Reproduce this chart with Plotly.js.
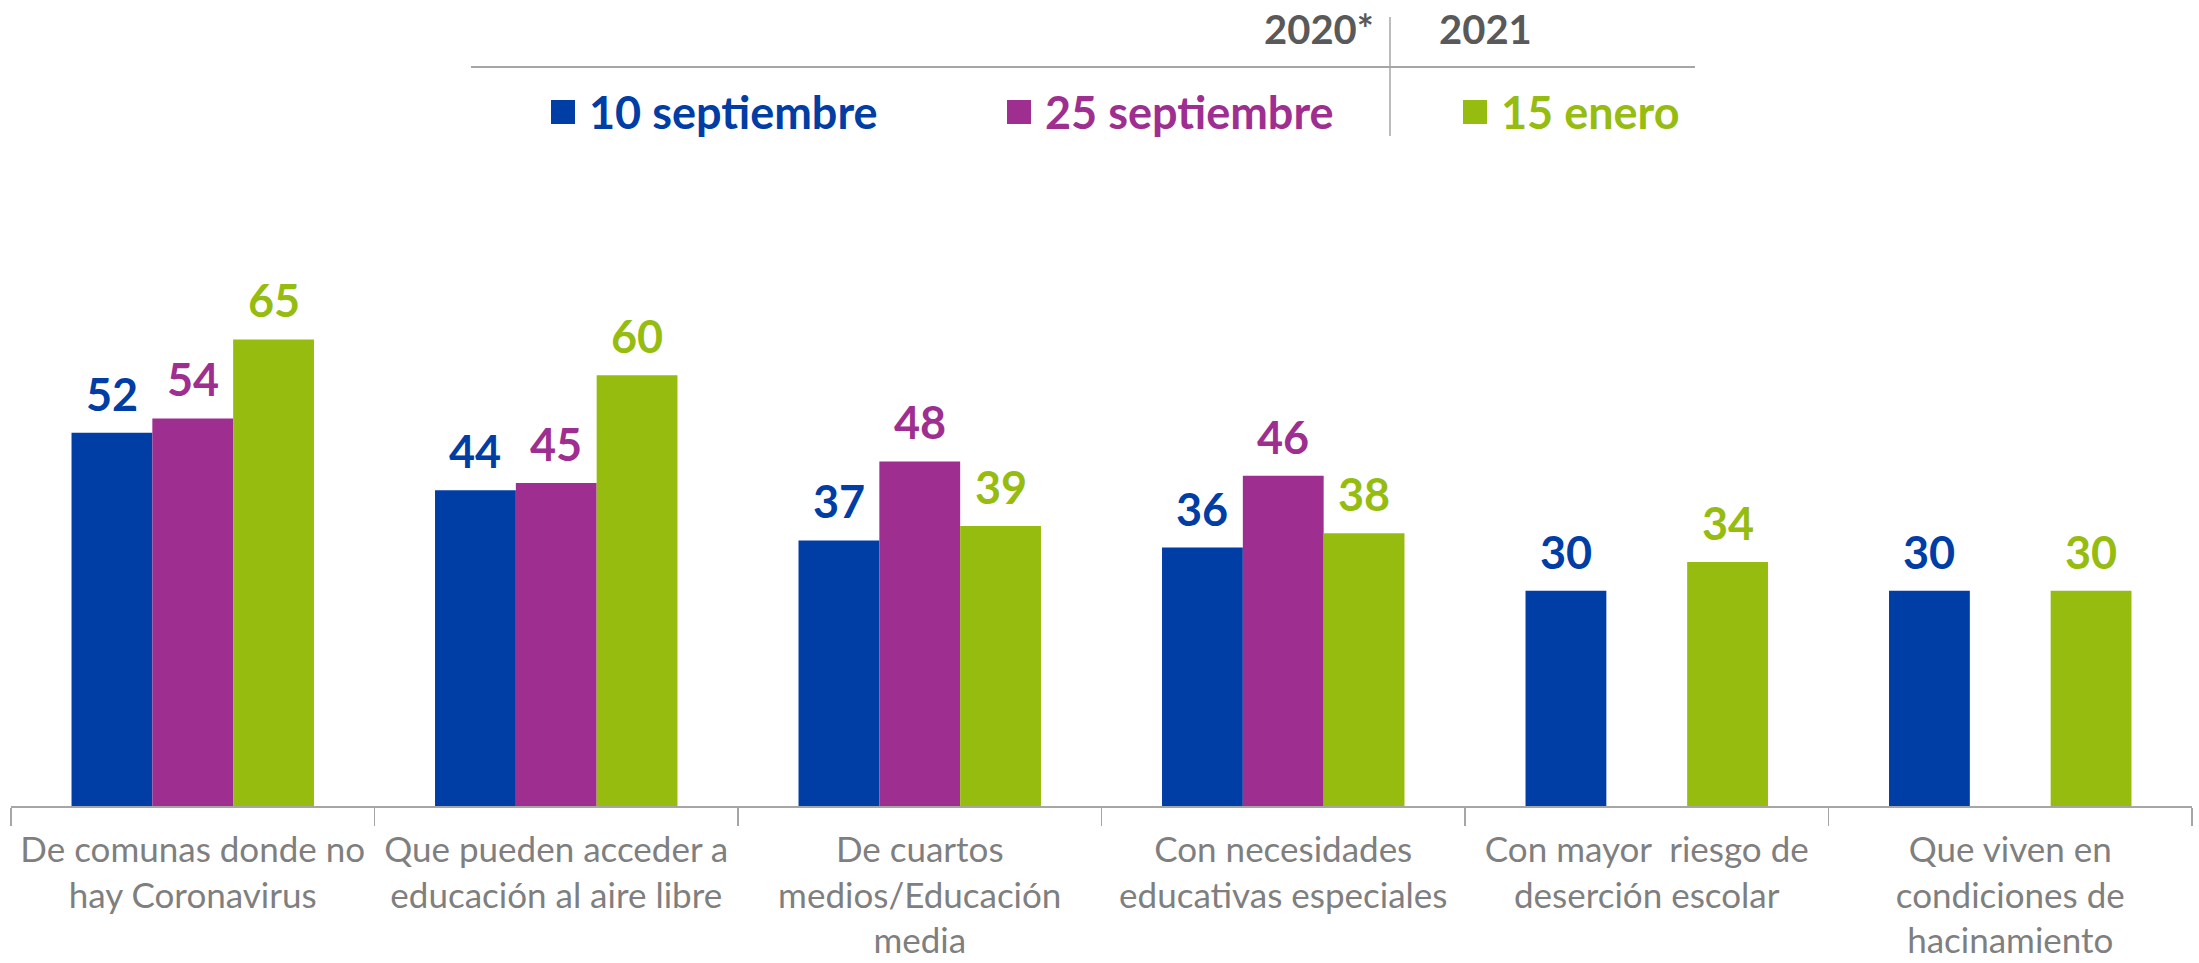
<!DOCTYPE html>
<html>
<head>
<meta charset="utf-8">
<script src="https://cdn.plot.ly/plotly-3.0.1.min.js"></script>
<style>html,body{margin:0;padding:0;background:#fff;}#chart{width:2199px;height:963px;}</style>
</head>
<body>
<div id="chart"></div>
<script>
const categories = [
  "De comunas donde no<br>hay Coronavirus",
  "Que pueden acceder a<br>educación al aire libre",
  "De cuartos<br>medios/Educación<br>media",
  "Con necesidades<br>educativas especiales",
  "Con mayor\u00a0 riesgo de<br>deserción escolar",
  "Que viven en<br>condiciones de<br>hacinamiento"
];
const seriesNames = ["10 septiembre", "25 septiembre", "15 enero"];
const sep10 = [52, 44, 37, 36, 30, 30];
const sep25 = [54, 45, 48, 46, null, null];
const ene15 = [65, 60, 39, 38, 34, 30];
const yearLabels = ["2020*", "2021"];

const colors = ["#003DA5", "#9E2F91", "#96BC10"];
const seriesValues = [sep10, sep25, ene15];

const W = 2199, H = 963;
const M = {l: 11, r: 7, t: 150, b: 157};
const plotW = W - M.l - M.r, plotH = H - M.t - M.b;
const bargap = 0.333;
const barPx = plotW / categories.length * (1 - bargap) / seriesValues.length;
const FONT = "Lato, 'Open Sans', sans-serif";

const px = x => (x - M.l) / plotW;
const py = y => (H - M.b - y) / plotH;

const traces = seriesValues.map((vals, i) => ({
  type: "bar",
  name: seriesNames[i],
  x: categories,
  y: vals,
  marker: {color: colors[i]},
  hoverinfo: "none",
  showlegend: false
}));

const annotations = [];
seriesValues.forEach((vals, i) => {
  vals.forEach((v, j) => {
    if (v === null) return;
    annotations.push({
      x: categories[j], y: v, xref: "x", yref: "y",
      text: String(v), showarrow: false, yanchor: "bottom", xanchor: "center",
      xshift: (i - 1) * barPx, yshift: 10,
      font: {family: FONT, size: 45, color: colors[i], weight: 700}
    });
  });
});

// legend
const legendSquareX = [551, 1007, 1463];
const legendTextX = [587, 1043, 1499];
const shapes = [];
seriesNames.forEach((name, i) => {
  shapes.push({type: "rect", xref: "paper", yref: "paper",
    x0: px(legendSquareX[i]), x1: px(legendSquareX[i] + 24),
    y0: py(124), y1: py(100), fillcolor: colors[i], line: {width: 0}});
  annotations.push({xref: "paper", yref: "paper", x: px(legendTextX[i]), y: py(112),
    text: name, showarrow: false, xanchor: "left", yanchor: "middle",
    font: {family: FONT, size: 45, color: colors[i], weight: 700}});
});
// year header
annotations.push({xref: "paper", yref: "paper", x: px(1376), y: py(29), text: yearLabels[0],
  showarrow: false, xanchor: "right", yanchor: "middle",
  font: {family: FONT, size: 40, color: "#595959", weight: 700}});
annotations.push({xref: "paper", yref: "paper", x: px(1437), y: py(29), text: yearLabels[1],
  showarrow: false, xanchor: "left", yanchor: "middle",
  font: {family: FONT, size: 40, color: "#595959", weight: 700}});
shapes.push({type: "line", xref: "paper", yref: "paper", x0: px(471), x1: px(1695), y0: py(67), y1: py(67),
  line: {color: "#A6A6A6", width: 2}});
shapes.push({type: "line", xref: "paper", yref: "paper", x0: px(1390), x1: px(1390), y0: py(17), y1: py(136),
  line: {color: "#A6A6A6", width: 1.5}});

const layout = {
  width: W, height: H,
  margin: M,
  paper_bgcolor: "#ffffff", plot_bgcolor: "#ffffff",
  barmode: "group", bargap: bargap, bargroupgap: 0,
  showlegend: false,
  xaxis: {
    type: "category", showline: true, linecolor: "#A6A6A6", linewidth: 2,
    ticks: "outside", tickson: "boundaries", ticklen: 18, tickcolor: "#A6A6A6", tickwidth: 1.5,
    ticklabelstandoff: 12,
    tickfont: {family: FONT, size: 35, color: "#7F7F7F"},
    showgrid: false, zeroline: false, fixedrange: true
  },
  yaxis: {range: [0, 91.4], visible: false, showgrid: false, zeroline: false, fixedrange: true},
  annotations: annotations,
  shapes: shapes
};

Plotly.newPlot("chart", traces, layout, {displayModeBar: false, staticPlot: true});
</script>
</body>
</html>
